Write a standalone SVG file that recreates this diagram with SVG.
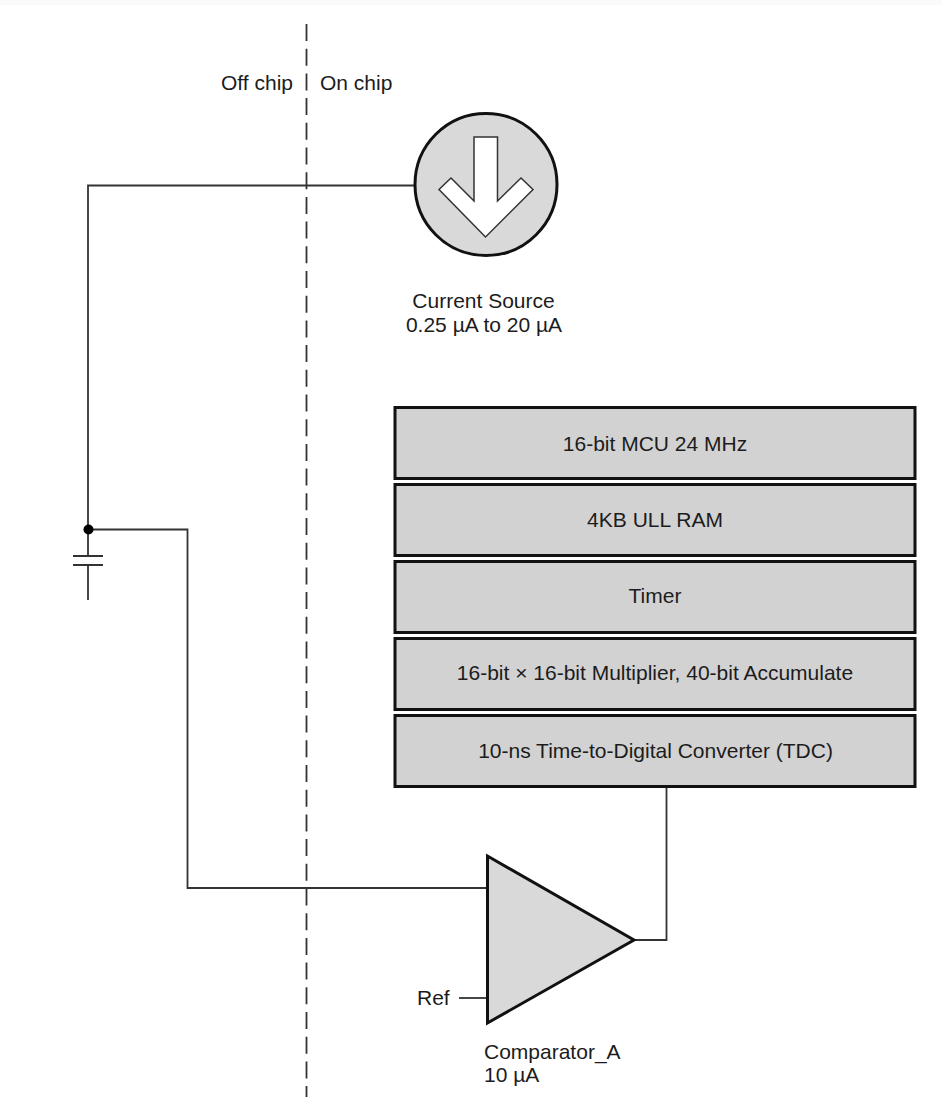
<svg xmlns="http://www.w3.org/2000/svg" width="942" height="1097" viewBox="0 0 942 1097">
<style>
text{font-family:"Liberation Sans",Arial,sans-serif;font-size:21px;fill:#1c1c1c}
.m{text-anchor:middle}
.b{fill:#d2d2d2;stroke:#111;stroke-width:3}
.w{fill:none;stroke:#333;stroke-width:1.8}
.e{fill:#d9d9d9;stroke:#111;stroke-width:3}
</style>
<rect width="942" height="1097" fill="#fff"/>
<rect width="942" height="5" fill="#fafafa"/>
<g id="connectors">
<path class="w" d="M306.500 24V1097" stroke-dasharray="17 7.700"/>
<path class="w" d="M415 185.500H88V529.500"/>
<path class="w" d="M88 529.500H187.500V888H488"/>
<path class="w" d="M88 529.500V556M88 565V600"/>
<path class="w" d="M73 556H103M73 565H103"/>
<path class="w" d="M634 940H666.500V786"/>
<path class="w" d="M459 998H488"/>
<circle cx="88.500" cy="529.500" r="5" fill="#000"/>
</g>
<g id="boundary-labels">
<text x="221" y="90">Off chip</text>
<text x="320" y="90">On chip</text>
</g>
<g id="current-source">
<circle class="e" cx="486" cy="184.500" r="71"/>
<path d="M474 137H497.500V201L521 178L533 189.500L485.500 237L439 189.500L451 178L474 201Z" fill="#fff" stroke="#333" stroke-width="1.500"/>
<text class="m" x="483.500" y="308">Current Source</text>
<text class="m" x="484" y="332">0.25 µA to 20 µA</text>
</g>
<g id="mcu"><rect class="b" x="395" y="407.500" width="520" height="71"/><text class="m" x="655" y="451">16-bit MCU 24 MHz</text></g>
<g id="ram"><rect class="b" x="395" y="484.500" width="520" height="71"/><text class="m" x="655" y="527">4KB ULL RAM</text></g>
<g id="timer"><rect class="b" x="395" y="561.500" width="520" height="71"/><text class="m" x="655" y="603">Timer</text></g>
<g id="multiplier"><rect class="b" x="395" y="638.500" width="520" height="71"/><text class="m" x="655" y="680">16-bit × 16-bit Multiplier, 40-bit Accumulate</text></g>
<g id="tdc"><rect class="b" x="395" y="715.500" width="520" height="71"/><text class="m" x="655.500" y="758">10-ns Time-to-Digital Converter (TDC)</text></g>
<g id="comparator">
<path class="e" d="M487.500 856V1023L634 940Z"/>
<text x="417" y="1005">Ref</text>
<text x="484" y="1059">Comparator_A</text>
<text x="484" y="1082">10 µA</text>
</g>
</svg>
